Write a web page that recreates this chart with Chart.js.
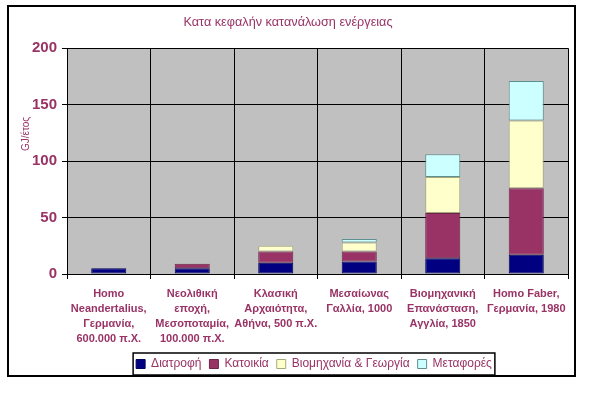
<!DOCTYPE html>
<html>
<head>
<meta charset="utf-8">
<script src="https://cdn.jsdelivr.net/npm/chart.js@4"></script>
<style>
  body { margin: 0; background: #fff; }
  canvas { display: block; }
</style>
</head>
<body>
<canvas id="energy-chart" width="601" height="401"></canvas>
<script>
const periods = [
  ['Homo', 'Neandertalius,', 'Γερμανία,', '600.000 π.Χ.'],
  ['Νεολιθική', 'εποχή,', 'Μεσοποταμία,', '100.000 π.Χ.'],
  ['Κλασική', 'Αρχαιότητα,', 'Αθήνα, 500 π.Χ.'],
  ['Μεσαίωνας', 'Γαλλία, 1000'],
  ['Βιομηχανική', 'Επανάσταση,', 'Αγγλία, 1850'],
  ['Homo Faber,', 'Γερμανία, 1980']
];
const food = [5, 5, 10, 11, 14, 17];
const housing = [0, 4, 10, 9, 40, 59];
const industry = [0, 0, 5, 8, 32, 60];
const transport = [0, 0, 0, 3, 20, 35];
const yTicks = [0, 50, 100, 150, 200];

const textColor = '#993366';
const fontFamily = '"Liberation Sans", Arial, sans-serif';

// grey plot area, outer frame, legend frame and axis title
const decorations = {
  id: 'decorations',
  beforeDraw(chart) {
    const { ctx, chartArea: a } = chart;
    ctx.save();
    ctx.fillStyle = '#c0c0c0';
    ctx.fillRect(a.left, a.top, a.right - a.left, a.bottom - a.top);
    ctx.restore();
  },
  afterLayout(chart) {
    const lg = chart.legend;
    lg.left += 26;
    lg.right += 26;
  },
  afterDraw(chart) {
    const { ctx } = chart;
    ctx.save();
    ctx.strokeStyle = '#000';
    ctx.lineWidth = 2;
    ctx.strokeRect(8, 6, 567, 370);

    const boxes = chart.legend.legendHitBoxes;
    if (boxes.length) {
      const first = boxes[0];
      const last = boxes[boxes.length - 1];
      ctx.lineWidth = 1.5;
      ctx.strokeRect(first.left - 3, first.top - 5, last.left + last.width - first.left + 6, first.height + 10);
    }

    ctx.translate(26.5, 134);
    ctx.rotate(-Math.PI / 2);
    ctx.fillStyle = textColor;
    ctx.font = '10px ' + fontFamily;
    ctx.textAlign = 'center';
    ctx.textBaseline = 'middle';
    ctx.fillText('GJ/έτος', 0, 0);
    ctx.restore();
  }
};

// no outline for empty segments
function segmentBorder(c) {
  return c.raw === 0 ? 0 : 1;
}

const ctx = document.getElementById('energy-chart').getContext('2d');
new Chart(ctx, {
  type: 'bar',
  data: {
    labels: periods,
    datasets: [
      {
        label: 'Διατροφή',
        data: food,
        backgroundColor: '#000080',
        borderColor: '#00005a'
      },
      {
        label: 'Κατοικία',
        data: housing,
        backgroundColor: '#993366',
        borderColor: '#6e2449'
      },
      {
        label: 'Βιομηχανία & Γεωργία',
        data: industry,
        backgroundColor: '#ffffcc',
        borderColor: '#a8a87e'
      },
      {
        label: 'Μεταφορές',
        data: transport,
        backgroundColor: '#ccffff',
        borderColor: '#5f8f8f'
      }
    ]
  },
  options: {
    responsive: false,
    animation: false,
    datasets: {
      bar: {
        borderWidth: segmentBorder,
        borderSkipped: false,
        barPercentage: 0.42,
        categoryPercentage: 1
      }
    },
    layout: {
      padding: { left: 8, right: 33, top: 0, bottom: 21 }
    },
    plugins: {
      title: {
        display: true,
        text: 'Κατα κεφαλήν κατανάλωση ενέργειας',
        color: textColor,
        font: { family: fontFamily, size: 12.7, weight: 'normal' },
        padding: { top: 15, bottom: 18 }
      },
      legend: {
        position: 'bottom',
        labels: {
          color: textColor,
          font: { family: fontFamily, size: 12 },
          boxWidth: 9,
          boxHeight: 9,
          padding: 8,
          generateLabels(chart) {
            const items = Chart.defaults.plugins.legend.labels.generateLabels(chart);
            return items.map(item => ({ ...item, lineWidth: 1 }));
          }
        }
      },
      tooltip: { enabled: false }
    },
    scales: {
      x: {
        stacked: true,
        grid: { color: '#000', lineWidth: 1, tickLength: 5, offset: true },
        border: { color: '#000' },
        ticks: {
          color: textColor,
          padding: 7,
          maxRotation: 0,
          autoSkip: false,
          font: { family: fontFamily, size: 11, weight: 'bold', lineHeight: 15 / 11 }
        },
        afterFit(scale) { scale.height = 76; }
      },
      y: {
        stacked: true,
        min: 0,
        max: 200,
        afterBuildTicks(scale) {
          scale.ticks = yTicks.map(v => ({ value: v }));
        },
        grid: { color: '#000', lineWidth: 1, tickLength: 5 },
        border: { color: '#000' },
        ticks: {
          color: textColor,
          padding: 5,
          font: { family: fontFamily, size: 15, weight: 'bold' }
        },
        afterFit(scale) { scale.width = 59; }
      }
    }
  },
  plugins: [decorations]
});
</script>
</body>
</html>
